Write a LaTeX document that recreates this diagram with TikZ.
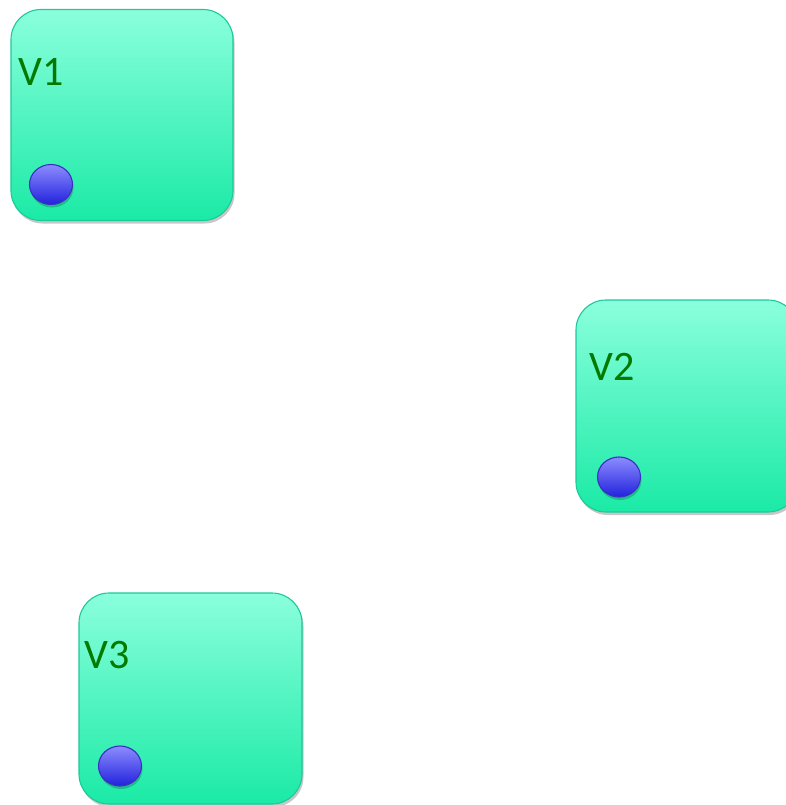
\documentclass[tikz,border=0pt]{standalone}
\usepackage{fontspec}
\setmainfont{Carlito}
\usetikzlibrary{shadows,shapes.geometric}
\definecolor{boxtop}{HTML}{8AFFDC}
\definecolor{boxbot}{HTML}{1BEAA6}
\definecolor{boxline}{HTML}{1CC99B}
\definecolor{lblgreen}{HTML}{007A00}
\definecolor{dottop}{HTML}{8C8CFF}
\definecolor{dotbot}{HTML}{2222DD}
\definecolor{dotline}{HTML}{3A2EC4}
\tikzset{
  vbox/.style={draw=boxline, line width=1.1pt, rounded corners=30pt,
    top color=boxtop, bottom color=boxbot, inner sep=0pt,
    drop shadow={shadow xshift=1.5pt, shadow yshift=-3pt, fill=black, opacity=0.22}},
  vdot/.style={ellipse, draw=dotline, line width=1.1pt, minimum width=43pt, minimum height=40pt,
    top color=dottop, bottom color=dotbot, inner sep=0pt,
    drop shadow={shadow xshift=1pt, shadow yshift=-3pt, fill=black, opacity=0.2}},
  vlabel/.style={anchor=base west, inner sep=0pt, text=lblgreen, font=\fontsize{42}{50}\selectfont}
}
\begin{document}
\begin{tikzpicture}[x=1pt,y=-1pt]
\useasboundingbox (0,0) rectangle (786,805);
\clip (0,0) rectangle (786,805);
% box 1
\node[vbox, minimum width=222pt, minimum height=211pt] (b1) at (122,115) {};
\node[vlabel] (l1) at (18,86) {V1};
\node[vdot] (d1) at (51,184.5) {};
% box 2
\node[vbox, minimum width=222pt, minimum height=212pt] (b2) at (687,406) {};
\node[vlabel] (l2) at (589,380) {V2};
\node[vdot] (d2) at (619,477) {};
% box 3
\node[vbox, minimum width=223pt, minimum height=211pt] (b3) at (190.5,698.5) {};
\node[vlabel] (l3) at (84,668) {V3};
\node[vdot] (d3) at (120,766) {};
\end{tikzpicture}
\end{document}
